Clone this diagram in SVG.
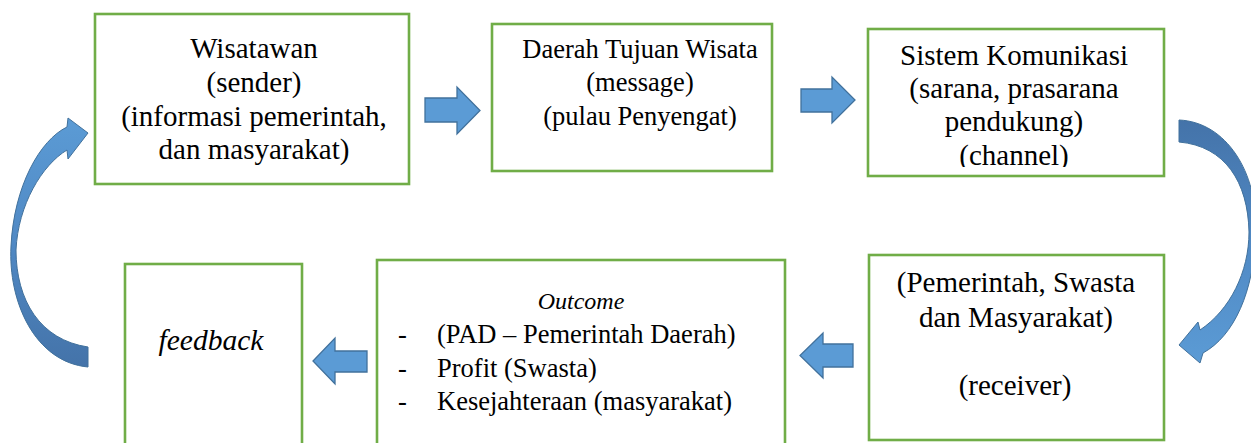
<svg xmlns="http://www.w3.org/2000/svg" width="1251" height="443" viewBox="0 0 1251 443">
<style>
.box{fill:#fff;stroke:#70AD47;stroke-width:2.6}
text{font-family:'Liberation Serif','DejaVu Serif',serif;fill:#000}
.t{text-anchor:middle}
.arr{fill:#5B9BD5;stroke:#41719C;stroke-width:1.3;stroke-linejoin:miter}
</style>
<defs>
<linearGradient id="gL" x1="0" y1="0" x2="0" y2="1">
<stop offset="0" stop-color="#5B9BD5"/>
<stop offset="0.5" stop-color="#5089C4"/>
<stop offset="1" stop-color="#4473A9"/>
</linearGradient>
<linearGradient id="gR" x1="0" y1="0" x2="0" y2="1">
<stop offset="0" stop-color="#4473A9"/>
<stop offset="0.5" stop-color="#5089C4"/>
<stop offset="1" stop-color="#5B9BD5"/>
</linearGradient>
<clipPath id="c3"><rect x="868" y="29" width="296" height="138"/></clipPath>
</defs>

<g id="connectors">
<path class="arr" d="M425 98 H457 V87 L480 110.5 L457 134 V122 H425 Z"/>
<path class="arr" d="M801 89 H832 V77 L855 100 L832 123 V112 H801 Z"/>
<path class="arr" d="M853 344 H823 V333 L800 355.5 L823 378 V367 H853 Z"/>
<path class="arr" d="M367 351 H335 V338 L313 361 L335 384 V372 H367 Z"/>
<path fill="url(#gL)" stroke="#41719C" stroke-width="1" d="M88 367 C35 362 8 302 11 246 C14 186 40 140 67 127 L68 118 L88 133 L68 159 L67 150 C42 165 18 205 16 250 C16 300 40 340 88 347 Z"/>
<path fill="url(#gR)" stroke="#41719C" stroke-width="1" d="M1179 120 C1226 122 1258 172 1256 232 C1254 292 1234 336 1203 353 L1200 363 L1179 345 L1198 322 L1200 330 C1230 310 1249 272 1249 232 C1248 182 1225 146 1179 142 Z"/>
</g>

<g id="node-wisatawan">
<rect class="box" x="95" y="14" width="314" height="170"/>
<text class="t" font-family="Liberation Serif" font-size="29" x="254" y="58">Wisatawan</text>
<text class="t" font-family="Liberation Serif" font-size="29" x="254" y="92">(sender)</text>
<text class="t" font-family="Liberation Serif" font-size="29" x="254" y="126">(informasi pemerintah,</text>
<text class="t" font-family="Liberation Serif" font-size="29" x="254" y="159">dan masyarakat)</text>
</g>

<g id="node-daerah">
<rect class="box" x="492" y="24" width="280" height="147"/>
<text class="t" font-size="26.5" x="640" y="58">Daerah Tujuan Wisata</text>
<text class="t" font-size="26.5" x="640" y="91">(message)</text>
<text class="t" font-size="26.5" x="640" y="125">(pulau Penyengat)</text>
</g>

<g id="node-sistem">
<rect class="box" x="868" y="29" width="296" height="147"/>
<g clip-path="url(#c3)">
<text class="t" font-size="29" x="1014" y="65">Sistem Komunikasi</text>
<text class="t" font-size="29" x="1014" y="98">(sarana, prasarana</text>
<text class="t" font-size="29" x="1014" y="131">pendukung)</text>
<text class="t" font-size="29" x="1014" y="165">(channel)</text>
</g>
</g>

<g id="node-receiver">
<rect class="box" x="869" y="255" width="295" height="185"/>
<text class="t" font-size="29" x="1016" y="292">(Pemerintah, Swasta</text>
<text class="t" font-size="29" x="1016" y="327">dan Masyarakat)</text>
<text class="t" font-size="29" x="1015" y="395">(receiver)</text>
</g>

<g id="node-outcome">
<rect class="box" x="377" y="260" width="408" height="200"/>
<text class="t" font-size="24" font-style="italic" x="581" y="309">Outcome</text>
<text font-size="26.5" x="398" y="343">-</text>
<text font-size="26.5" x="437" y="343">(PAD – Pemerintah Daerah)</text>
<text font-size="26.5" x="398" y="377">-</text>
<text font-size="26.5" x="437" y="377">Profit (Swasta)</text>
<text font-size="26.5" x="398" y="410">-</text>
<text font-size="26.5" x="437" y="410">Kesejahteraan (masyarakat)</text>
</g>

<g id="node-feedback">
<rect class="box" x="125" y="264" width="177" height="200"/>
<text class="t" font-size="29.5" font-style="italic" x="211" y="350">feedback</text>
</g>
</svg>
